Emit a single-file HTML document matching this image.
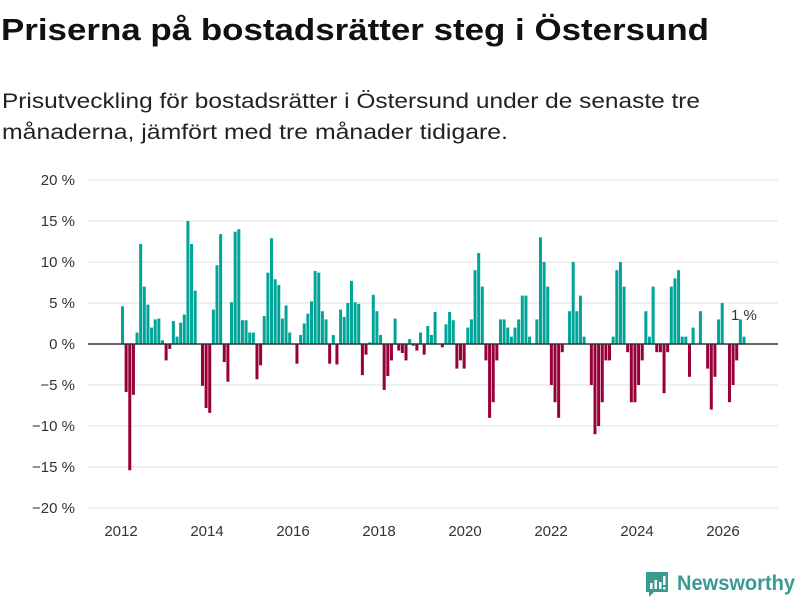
<!DOCTYPE html>
<html><head><meta charset="utf-8"><style>
html,body{margin:0;padding:0;background:#fff}
svg{display:block;font-family:"Liberation Sans","DejaVu Sans",sans-serif}
</style></head><body>
<svg id="chart" width="800" height="600" viewBox="0 0 800 600">
<text x="1" y="40" font-size="31" font-weight="bold" fill="#111" textLength="708" lengthAdjust="spacingAndGlyphs">Priserna på bostadsrätter steg i Östersund</text>
<text x="2" y="108" font-size="21" fill="#222" textLength="698" lengthAdjust="spacingAndGlyphs">Prisutveckling för bostadsrätter i Östersund under de senaste tre</text>
<text x="2" y="139" font-size="21" fill="#222" textLength="506" lengthAdjust="spacingAndGlyphs">månaderna, jämfört med tre månader tidigare.</text>
<g id="grid"></g>
<g id="yticks"></g>
<g id="xticks"></g>
<g id="bars"></g>
<line x1="88" x2="778" y1="344" y2="344" stroke="#333" stroke-width="1.5"/>
<text x="731" y="320" font-size="15" fill="#333">1 %</text>
<g>
<path d="M646 572 h22 v20 h-14 l-5 5 v-5 h-3 z" fill="#3a9a92"/>
<rect x="650" y="583" width="2.5" height="6" fill="#fff"/><rect x="654.5" y="580" width="2.5" height="9" fill="#fff"/><rect x="659" y="582" width="2.5" height="7" fill="#fff"/><rect x="663" y="576" width="2.5" height="9" fill="#fff"/><rect x="663" y="587" width="2.5" height="2.5" fill="#fff"/>
<text x="677" y="590" font-size="21" font-weight="bold" fill="#3a9a92" textLength="118" lengthAdjust="spacingAndGlyphs">Newsworthy</text>
</g>
</svg>
<script>
const yTicks=[20,15,10,5,0,-5,-10,-15,-20];
const xTickYears=[2012,2014,2016,2018,2020,2022,2024,2026];
const startYear=2012;
const values=[4.6,-5.85,-15.4,-6.2,1.4,12.2,7.0,4.8,2.0,3.0,3.1,0.45,-2.0,-0.6,2.8,0.9,2.6,3.6,15.0,12.2,6.5,0,-5.1,-7.8,-8.4,4.2,9.6,13.4,-2.2,-4.6,5.1,13.7,14.0,2.9,2.9,1.4,1.4,-4.3,-2.6,3.4,8.7,12.9,7.9,7.2,3.1,4.7,1.4,0,-2.4,1.1,2.5,3.7,5.2,8.9,8.7,4.0,3.0,-2.4,1.1,-2.5,4.2,3.3,5.0,7.7,5.1,4.9,-3.8,-1.3,0.2,6.0,4.0,1.1,-5.6,-3.9,-2.0,3.1,-0.8,-1.1,-2.0,0.6,-0.2,-0.8,1.4,-1.3,2.2,1.1,3.9,0,-0.4,2.4,3.9,2.9,-3.0,-2.0,-3.0,2.0,3.0,9.0,11.1,7.0,-2.0,-9.0,-7.1,-2.0,3.0,3.0,2.0,0.9,2.0,3.0,5.9,5.9,0.9,0,3.0,13.0,10.0,7.0,-5.0,-7.1,-9.0,-1.0,0,4.0,10.0,4.0,5.9,0.9,0,-5.0,-11.0,-10.0,-7.1,-2.0,-2.0,0.9,9.0,10.0,7.0,-1.0,-7.1,-7.1,-5.0,-2.0,4.0,0.9,7.0,-1.0,-1.0,-6.0,-1.0,7.0,8.0,9.0,0.9,0.9,-4.0,2.0,0,4.0,0,-3.0,-8.0,-4.0,3.0,5.0,0,-7.1,-5.0,-2.0,3.0,0.9];
const NS="http://www.w3.org/2000/svg";
function y(v){return 344-v*8.2;}
function x(yr){return 121+43*(yr-startYear);}
function barX(i){return 122.5+i*(744-122.5)/(values.length-1);}
const grid=document.getElementById('grid'),yt=document.getElementById('yticks'),xt=document.getElementById('xticks'),bars=document.getElementById('bars');
yTicks.forEach(t=>{
 const l=document.createElementNS(NS,'line');
 l.setAttribute('x1',88);l.setAttribute('x2',778);l.setAttribute('y1',y(t));l.setAttribute('y2',y(t));
 l.setAttribute('stroke','#e0e0e0');l.setAttribute('stroke-width','1');
 
 
 grid.appendChild(l);
 const tx=document.createElementNS(NS,'text');
 tx.setAttribute('x',75);tx.setAttribute('y',y(t)+5);tx.setAttribute('text-anchor','end');
 tx.setAttribute('font-size','15');tx.setAttribute('fill','#333');
 tx.textContent=(t<0?'\u2212'+(-t):t)+' %';
 
 
 yt.appendChild(tx);
});
xTickYears.forEach(yr=>{
 const tx=document.createElementNS(NS,'text');
 tx.setAttribute('x',x(yr));tx.setAttribute('y',536);tx.setAttribute('text-anchor','middle');
 tx.setAttribute('font-size','15');tx.setAttribute('fill','#333');
 tx.textContent=yr;
 
 
 xt.appendChild(tx);
});
values.forEach((v,i)=>{
 if(v===0)return;
 const cx=barX(i);
 const r=document.createElementNS(NS,'rect');
 r.setAttribute('x',cx-1.5);r.setAttribute('width',3);
 r.setAttribute('y',Math.min(y(v),344));r.setAttribute('height',Math.abs(y(v)-344));
 r.setAttribute('fill',v>0?'#00a598':'#970038');
 
 
 bars.appendChild(r);
});
</script>
</body></html>
